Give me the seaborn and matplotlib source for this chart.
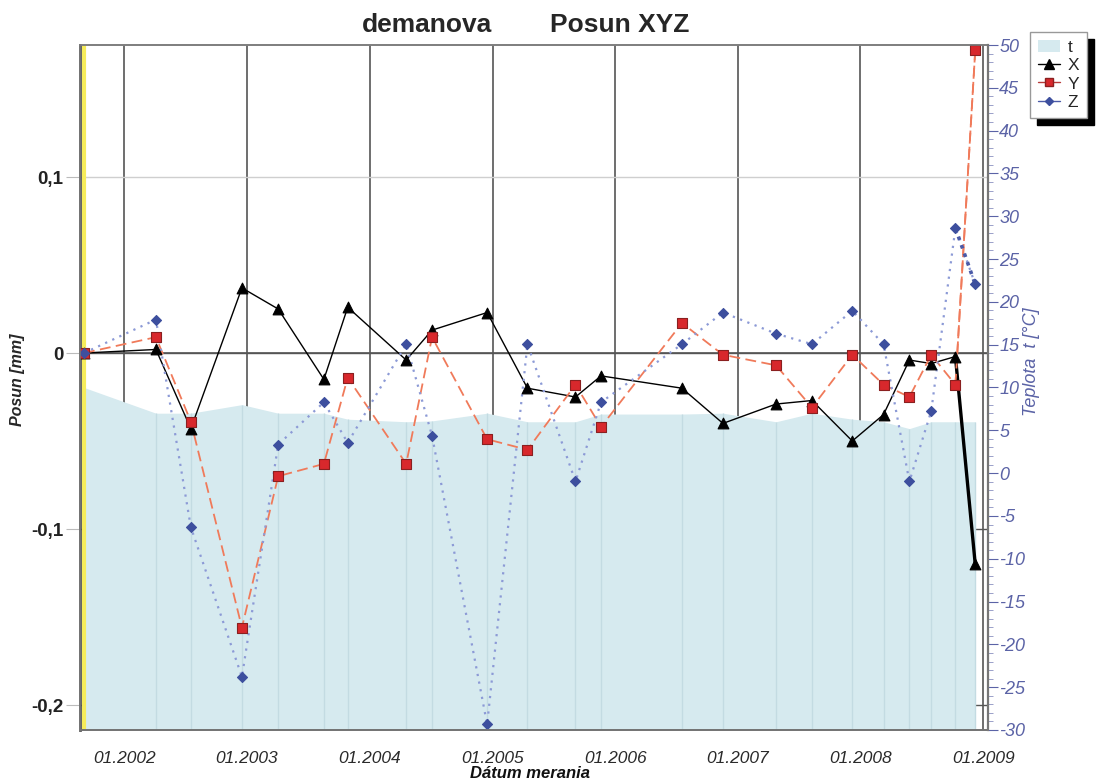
import matplotlib
matplotlib.use("Agg")
import matplotlib.pyplot as plt
import matplotlib.dates as mdates
from matplotlib.lines import Line2D
from matplotlib.patches import Patch
from matplotlib.ticker import MultipleLocator, FixedLocator
import seaborn as sns
import pandas as pd

# ---------------- data ----------------
dates = ["2001-09-03", "2002-04-05", "2002-07-18", "2002-12-17", "2003-04-04",
         "2003-08-18", "2003-10-28", "2004-04-19", "2004-07-05", "2004-12-16",
         "2005-04-15", "2005-09-05", "2005-11-20", "2006-07-19", "2006-11-18",
         "2007-04-25", "2007-08-10", "2007-12-08", "2008-03-10", "2008-05-26",
         "2008-07-30", "2008-10-10", "2008-12-08"]
x_vals = [0.000, 0.002, -0.043, 0.037, 0.025, -0.015, 0.026, -0.004, 0.013, 0.023,
          -0.020, -0.025, -0.013, -0.020, -0.040, -0.029, -0.027, -0.050, -0.035,
          -0.004, -0.006, -0.002, -0.120]
y_vals = [0.000, 0.009, -0.039, -0.156, -0.070, -0.063, -0.014, -0.063, 0.009, -0.049,
          -0.055, -0.018, -0.042, 0.017, -0.001, -0.007, -0.031, -0.001, -0.018,
          -0.025, -0.001, -0.018, 0.172]
z_vals = [0.000, 0.019, -0.099, -0.184, -0.052, -0.028, -0.051, 0.005, -0.047, -0.211,
          0.005, -0.073, -0.028, 0.005, 0.023, 0.011, 0.005, 0.024, 0.005, -0.073,
          -0.033, 0.071, 0.039]
t_vals = [10.0, 7.0, 7.0, 8.0, 7.0, 7.0, 6.3, 6.0, 6.1, 7.0, 6.0, 6.0, 6.9, 6.9, 7.0,
          6.0, 7.0, 6.3, 6.0, 5.2, 6.0, 6.0, 6.0]
left_ticks = [-0.2, -0.1, 0.0, 0.1]
left_labels = ["-0,2", "-0,1", "0", "0,1"]
series_names = ["X", "Y", "Z"]
title_left = "demanova"
title_right = "Posun XYZ"

df = pd.DataFrame({"date": pd.to_datetime(dates), "X": x_vals, "Y": y_vals,
                   "Z": z_vals, "t": t_vals})

# ---------------- style ----------------
sns.set_style("white")
plt.rcParams["font.family"] = ["Liberation Sans", "DejaVu Sans"]
plt.rcParams["axes.unicode_minus"] = False

FILL = "#d6eaef"
TEMP_COL = "#5b63a6"
line_style = {
    "X": dict(color="black", linestyle="-", lw=1.0),
    "Y": dict(color="#f07a5a", linestyle=(0, (6, 3)), lw=1.3),
    "Z": dict(color="#8c9ad6", linestyle=(0, (1, 2.5)), lw=1.6),
}
last_style = {
    "X": dict(color="black", linestyle="-", lw=2.4),
    "Y": dict(color="#f07a5a", linestyle=(0, (6, 3)), lw=1.3),
    "Z": dict(color="#4a5aa8", linestyle=(0, (1, 1.5)), lw=2.6),
}
marker_style = {
    "X": dict(marker="^", color="black", edgecolor="black", s=60),
    "Y": dict(marker="s", color="#d8282c", edgecolor="#8a2020", s=55),
    "Z": dict(marker="D", color="#3d4f9e", edgecolor="#3d4f9e", s=26),
}

fig = plt.figure(figsize=(11.18, 7.82), dpi=100)
ax = fig.add_axes([80 / 1118, 1 - 730 / 782, (988 - 80) / 1118, (730 - 45) / 782])
ax_t = ax.twinx()

xmin = pd.Timestamp("2001-08-22")
xmax = pd.Timestamp("2009-01-15")

# temperature area (in temperature units of the right axis)
ax.fill_between(df["date"], df["t"], -30, transform=ax_t.transData,
                color=FILL, lw=0, zorder=1)
ax.vlines(df["date"], -30, df["t"], transform=ax_t.transData,
          color="#c3dbe2", lw=1.0, zorder=1.1)

# yellow start marker
ax.axvline(df["date"].iloc[0], color="#f6ec5a", lw=3.0, zorder=1.5)

# series
for name in series_names:
    sns.lineplot(data=df, x="date", y=name, ax=ax, estimator=None, sort=False,
                 legend=False, zorder=3, **line_style[name])
    sns.lineplot(data=df.iloc[-2:], x="date", y=name, ax=ax, estimator=None,
                 sort=False, legend=False, zorder=3.2, **last_style[name])
for name in series_names:
    ms = marker_style[name]
    sns.scatterplot(data=df, x="date", y=name, ax=ax, marker=ms["marker"],
                    color=ms["color"], edgecolor=ms["edgecolor"], linewidth=0.8,
                    s=ms["s"], legend=False, zorder=4)

# axes limits
ax.set_xlim(xmin, xmax)
ax.set_ylim(-0.2142, 0.175)
ax_t.set_ylim(-30, 50)

# x axis
ax.xaxis.set_major_locator(mdates.YearLocator())
ax.xaxis.set_minor_locator(mdates.MonthLocator())
ax.xaxis.set_major_formatter(mdates.DateFormatter("%m.%Y"))
ax.tick_params(axis="x", which="major", length=4, color="#999", labelsize=12.5,
               labelcolor="#2a2a2a", pad=11)
ax.tick_params(axis="x", which="minor", length=4, color="#aaa")
for lab in ax.get_xticklabels():
    lab.set_fontstyle("italic")

# left axis
ax.yaxis.set_major_locator(FixedLocator(left_ticks))
ax.set_yticklabels(left_labels, fontweight="bold", fontsize=13.5)
ax.tick_params(axis="y", which="major", length=10, color="#bbb", pad=2,
               labelcolor="#222")
ax.set_xlabel("")
ax.set_ylabel("")

# grid
ax.set_axisbelow(True)
ax.grid(axis="x", which="major", color="#555", lw=1.2, zorder=0.5)
ax.grid(axis="y", which="major", color="#555", lw=1.0, zorder=0.5)
for tick_val, gl in zip(left_ticks, ax.get_ygridlines()):
    if tick_val > 0.05:
        gl.set_color("#cfcfcf")
ax.axhline(0, color="#555", lw=1.2, zorder=2)

# right axis
ax_t.yaxis.set_major_locator(MultipleLocator(5))
ax_t.yaxis.set_minor_locator(MultipleLocator(1))
ax_t.tick_params(axis="y", which="major", length=7, color=TEMP_COL,
                 labelcolor=TEMP_COL, labelsize=13, pad=1)
ax_t.tick_params(axis="y", which="minor", length=3.5, color="#8a90c0")
for lab in ax_t.get_yticklabels():
    lab.set_fontstyle("italic")
ax_t.set_ylabel("")

for a in (ax, ax_t):
    for sp in a.spines.values():
        sp.set_color("#777")
        sp.set_linewidth(1.2)
ax.spines["left"].set_color("#555")
ax.spines["left"].set_linewidth(2)
ax.spines["bottom"].set_color("#555")
ax.spines["top"].set_color("#aaa")
ax_t.spines["right"].set_linewidth(1.6)

# labels
fig.text(427 / 1118, 1 - 25 / 782, title_left, ha="center", va="center",
         fontsize=19, fontweight="bold")
fig.text(620 / 1118, 1 - 25 / 782, title_right, ha="center", va="center",
         fontsize=19, fontweight="bold")
fig.text(18 / 1118, 1 - 380 / 782, "Posun [mm]", rotation=90, ha="center",
         va="center", fontsize=11.5, fontweight="bold", fontstyle="italic")
fig.text(1031 / 1118, 1 - 362 / 782, "Teplota  t [°C]", rotation=90, ha="center",
         va="center", fontsize=13, fontstyle="italic", color=TEMP_COL)
fig.text(530 / 1118, 1 - 774 / 782, "Dátum merania", ha="center", va="center",
         fontsize=12, fontweight="bold", fontstyle="italic", color="#111")

# legend
handles = [
    Patch(facecolor=FILL, edgecolor="none", label="t"),
    Line2D([], [], color="black", lw=1, marker="^", markersize=7, label="X"),
    Line2D([], [], color="#b83a3a", lw=1, marker="s", markersize=6,
           markerfacecolor="#d8282c", markeredgecolor="#8a2020", label="Y"),
    Line2D([], [], color="#4a5aa8", lw=1, marker="D", markersize=4.5,
           markerfacecolor="#3d4f9e", markeredgecolor="#3d4f9e", label="Z"),
]
leg = fig.legend(handles=handles, loc="upper left",
                 bbox_to_anchor=(1030 / 1118, 1 - 32 / 782), frameon=True,
                 fancybox=False, fontsize=12.5, handlelength=1.3, handletextpad=0.4,
                 borderpad=0.45, labelspacing=0.18, borderaxespad=0,
                 shadow={"ox": 5, "oy": -5, "facecolor": "black",
                         "edgecolor": "black", "alpha": 1})
leg.get_frame().set_edgecolor("#999")
leg.get_frame().set_linewidth(1)

fig.savefig("out.png", dpi=100)
